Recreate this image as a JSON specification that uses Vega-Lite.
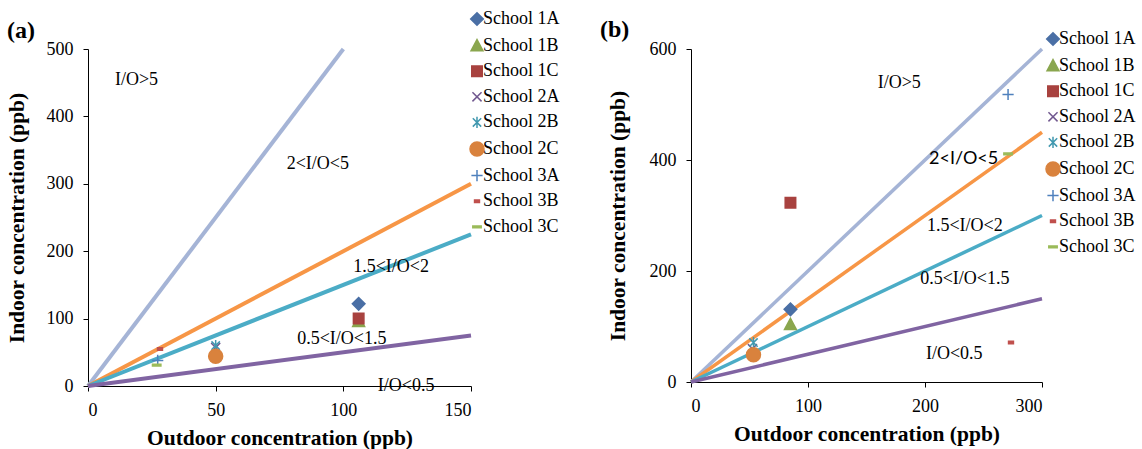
{
  "$schema": "https://vega.github.io/schema/vega-lite/v6.json",
  "background": "white",
  "padding": {"left": 6, "top": 10, "right": 5, "bottom": 5},
  "bounds": "flush",
  "spacing": 220,
  "config": {
    "font": "Liberation Serif",
    "view": {"stroke": null},
    "axis": {
      "domainColor": "black", "tickColor": "black", "grid": false,
      "labelFont": "Liberation Serif", "labelFontSize": 18, "labelColor": "black",
      "titleFont": "Liberation Serif", "titleFontSize": 21.5, "titleFontWeight": "bold", "titleColor": "black",
      "tickSize": 5, "labelPadding": 10
    },
    "legend": {
      "labelFont": "Liberation Serif", "labelFontSize": 18, "labelColor": "black",
      "symbolStrokeWidth": 1.5, "symbolSize": 196, "padding": 0, "rowPadding": 7.6, "labelOffset": -3
    },
    "title": {"font": "Liberation Serif", "fontSize": 24, "fontWeight": "bold", "color": "black", "anchor": "start", "frame": "group"}
  },
  "datasets": {
    "ptsA": [
      {"school": "School 1A", "outdoor": 106, "indoor": 122},
      {"school": "School 1B", "outdoor": 106, "indoor": 96},
      {"school": "School 1C", "outdoor": 106, "indoor": 100},
      {"school": "School 2A", "outdoor": 50, "indoor": 57},
      {"school": "School 2B", "outdoor": 50, "indoor": 60},
      {"school": "School 2C", "outdoor": 50, "indoor": 44},
      {"school": "School 3A", "outdoor": 27.3, "indoor": 38},
      {"school": "School 3B", "outdoor": 28.2, "indoor": 55},
      {"school": "School 3C", "outdoor": 26.9, "indoor": 31}
    ],
    "ptsB": [
      {"school": "School 1A", "outdoor": 85, "indoor": 131},
      {"school": "School 1B", "outdoor": 85, "indoor": 104},
      {"school": "School 1C", "outdoor": 85, "indoor": 323},
      {"school": "School 2A", "outdoor": 52.5, "indoor": 60},
      {"school": "School 2B", "outdoor": 53.4, "indoor": 71},
      {"school": "School 2C", "outdoor": 53.4, "indoor": 49},
      {"school": "School 3A", "outdoor": 271, "indoor": 518},
      {"school": "School 3B", "outdoor": 273.5, "indoor": 71},
      {"school": "School 3C", "outdoor": 271, "indoor": 411}
    ],
    "linesA": [
      {"ratio": "5", "outdoor": 0, "indoor": 0}, {"ratio": "5", "outdoor": 100, "indoor": 500},
      {"ratio": "2", "outdoor": 0, "indoor": 0}, {"ratio": "2", "outdoor": 150, "indoor": 300},
      {"ratio": "1.5", "outdoor": 0, "indoor": 0}, {"ratio": "1.5", "outdoor": 150, "indoor": 225},
      {"ratio": "0.5", "outdoor": 0, "indoor": 0}, {"ratio": "0.5", "outdoor": 150, "indoor": 75}
    ],
    "linesB": [
      {"ratio": "5", "outdoor": 0, "indoor": 0}, {"ratio": "5", "outdoor": 300, "indoor": 600},
      {"ratio": "2", "outdoor": 0, "indoor": 0}, {"ratio": "2", "outdoor": 300, "indoor": 450},
      {"ratio": "1.5", "outdoor": 0, "indoor": 0}, {"ratio": "1.5", "outdoor": 300, "indoor": 300},
      {"ratio": "0.5", "outdoor": 0, "indoor": 0}, {"ratio": "0.5", "outdoor": 300, "indoor": 150}
    ],
    "labelsA": [
      {"label": "I/O>5", "outdoor": 19, "indoor": 454},
      {"label": "2<I/O<5", "outdoor": 90, "indoor": 329},
      {"label": "1.5<I/O<2", "outdoor": 118.7, "indoor": 176},
      {"label": "0.5<I/O<1.5", "outdoor": 99.4, "indoor": 69},
      {"label": "I/O<0.5", "outdoor": 124.6, "indoor": 0}
    ],
    "labelsB": [
      {"label": "I/O>5", "outdoor": 178, "indoor": 539},
      {"label": "1.5<I/O<2", "outdoor": 234, "indoor": 281},
      {"label": "0.5<I/O<1.5", "outdoor": 234, "indoor": 185},
      {"label": "I/O<0.5", "outdoor": 225, "indoor": 50}
    ],
    "labelsBsans": [
      {"label": "2<I/O<5", "outdoor": 233, "indoor": 402}
    ]
  },
  "resolve": {"scale": {"fill": "independent", "stroke": "independent", "shape": "independent", "color": "independent"}},
  "hconcat": [
    {
      "width": 383, "height": 337,
      "title": {"text": "(a)", "dx": -81, "dy": 31, "offset": -2},
      "encoding": {
        "x": {"field": "outdoor", "type": "quantitative", "scale": {"domain": [0, 150], "nice": false},
              "axis": {"values": [0, 50, 100, 150], "title": "Outdoor concentration (ppb)", "titlePadding": 8}},
        "y": {"field": "indoor", "type": "quantitative", "scale": {"domain": [0, 500], "nice": false},
              "axis": {"values": [0, 100, 200, 300, 400, 500], "title": "Indoor concentration (ppb)", "titlePadding": 18}}
      },
      "layer": [
        {
          "data": {"name": "linesA"},
          "mark": {"type": "line", "strokeWidth": 4},
          "encoding": {
            "color": {"field": "ratio", "type": "nominal", "legend": null,
                      "scale": {"domain": ["5", "2", "1.5", "0.5"], "range": ["#A5B4D6", "#F79646", "#4BACC6", "#8064A2"]}}
          }
        },
        {
          "data": {"name": "labelsA"},
          "mark": {"type": "text", "font": "Liberation Serif", "fontSize": 18, "color": "black"},
          "encoding": {"text": {"field": "label"}}
        },
        {
          "data": {"name": "ptsA"},
          "mark": {"type": "point", "filled": true, "size": 196, "strokeWidth": 1.5, "opacity": 1},
          "encoding": {
            "shape": {"field": "school", "type": "nominal",
              "scale": {"domain": ["School 1A", "School 1B", "School 1C", "School 2A", "School 2B", "School 2C", "School 3A", "School 3B", "School 3C"],
                        "range": ["M0,-0.9L0.9,0L0,0.9L-0.9,0Z", "M0,-0.85L0.85,0.75H-0.85Z", "M-0.75,-0.75H0.75V0.75H-0.75Z", "M-0.65,-0.65L0.65,0.65M-0.65,0.65L0.65,-0.65", "M-0.6,-0.6L0.6,0.6M-0.6,0.6L0.6,-0.6M0,-0.8V0.8", "circle", "M-0.8,0H0.8M0,-0.8V0.8", "M-0.35,-0.18H0.35V0.18H-0.35Z", "M-0.6,-0.12H0.6V0.12H-0.6Z"]},
              "legend": {"title": null, "orient": "none", "legendX": 380, "legendY": -39}},
            "fill": {"field": "school", "type": "nominal",
              "scale": {"domain": ["School 1A", "School 1B", "School 1C", "School 2A", "School 2B", "School 2C", "School 3A", "School 3B", "School 3C"],
                        "range": ["#4A6FA5", "#8AA64E", "#A8423F", "#71588F", "#4198AF", "#D9823D", "#4F81BD", "#C0504D", "#9BBB59"]},
              "legend": {"title": null, "orient": "none", "legendX": 380, "legendY": -39}},
            "stroke": {"field": "school", "type": "nominal",
              "scale": {"domain": ["School 1A", "School 1B", "School 1C", "School 2A", "School 2B", "School 2C", "School 3A", "School 3B", "School 3C"],
                        "range": ["#4A6FA5", "#8AA64E", "#A8423F", "#71588F", "#4198AF", "#D9823D", "#4F81BD", "#C0504D", "#9BBB59"]},
              "legend": {"title": null, "orient": "none", "legendX": 380, "legendY": -39}}
          }
        }
      ]
    },
    {
      "width": 351, "height": 333,
      "title": {"text": "(b)", "dx": -91, "dy": 10, "offset": -2},
      "encoding": {
        "x": {"field": "outdoor", "type": "quantitative", "scale": {"domain": [0, 300], "nice": false},
              "axis": {"values": [0, 100, 200, 300], "title": "Outdoor concentration (ppb)", "titlePadding": 8}},
        "y": {"field": "indoor", "type": "quantitative", "scale": {"domain": [0, 600], "nice": false},
              "axis": {"values": [0, 200, 400, 600], "title": "Indoor concentration (ppb)", "titlePadding": 20}}
      },
      "layer": [
        {
          "data": {"name": "linesB"},
          "mark": {"type": "line", "strokeWidth": 3.5},
          "encoding": {
            "color": {"field": "ratio", "type": "nominal", "legend": null,
                      "scale": {"domain": ["5", "2", "1.5", "0.5"], "range": ["#A5B4D6", "#F79646", "#4BACC6", "#8064A2"]}}
          }
        },
        {
          "data": {"name": "labelsB"},
          "mark": {"type": "text", "font": "Liberation Serif", "fontSize": 18, "color": "black"},
          "encoding": {"text": {"field": "label"}}
        },
        {
          "data": {"name": "labelsBsans"},
          "mark": {"type": "text", "font": "Lato", "fontSize": 18, "color": "black"},
          "encoding": {"text": {"field": "label"}}
        },
        {
          "data": {"name": "ptsB"},
          "mark": {"type": "point", "filled": true, "size": 196, "strokeWidth": 1.5, "opacity": 1},
          "encoding": {
            "shape": {"field": "school", "type": "nominal",
              "scale": {"domain": ["School 1A", "School 1B", "School 1C", "School 2A", "School 2B", "School 2C", "School 3A", "School 3B", "School 3C"],
                        "range": ["M0,-0.9L0.9,0L0,0.9L-0.9,0Z", "M0,-0.85L0.85,0.75H-0.85Z", "M-0.75,-0.75H0.75V0.75H-0.75Z", "M-0.65,-0.65L0.65,0.65M-0.65,0.65L0.65,-0.65", "M-0.6,-0.6L0.6,0.6M-0.6,0.6L0.6,-0.6M0,-0.8V0.8", "circle", "M-0.8,0H0.8M0,-0.8V0.8", "M-0.35,-0.18H0.35V0.18H-0.35Z", "M-0.6,-0.12H0.6V0.12H-0.6Z"]},
              "legend": {"title": null, "orient": "none", "legendX": 353, "legendY": -19}},
            "fill": {"field": "school", "type": "nominal",
              "scale": {"domain": ["School 1A", "School 1B", "School 1C", "School 2A", "School 2B", "School 2C", "School 3A", "School 3B", "School 3C"],
                        "range": ["#4A6FA5", "#8AA64E", "#A8423F", "#71588F", "#4198AF", "#D9823D", "#4F81BD", "#C0504D", "#9BBB59"]},
              "legend": {"title": null, "orient": "none", "legendX": 353, "legendY": -19}},
            "stroke": {"field": "school", "type": "nominal",
              "scale": {"domain": ["School 1A", "School 1B", "School 1C", "School 2A", "School 2B", "School 2C", "School 3A", "School 3B", "School 3C"],
                        "range": ["#4A6FA5", "#8AA64E", "#A8423F", "#71588F", "#4198AF", "#D9823D", "#4F81BD", "#C0504D", "#9BBB59"]},
              "legend": {"title": null, "orient": "none", "legendX": 353, "legendY": -19}}
          }
        }
      ]
    }
  ]
}
